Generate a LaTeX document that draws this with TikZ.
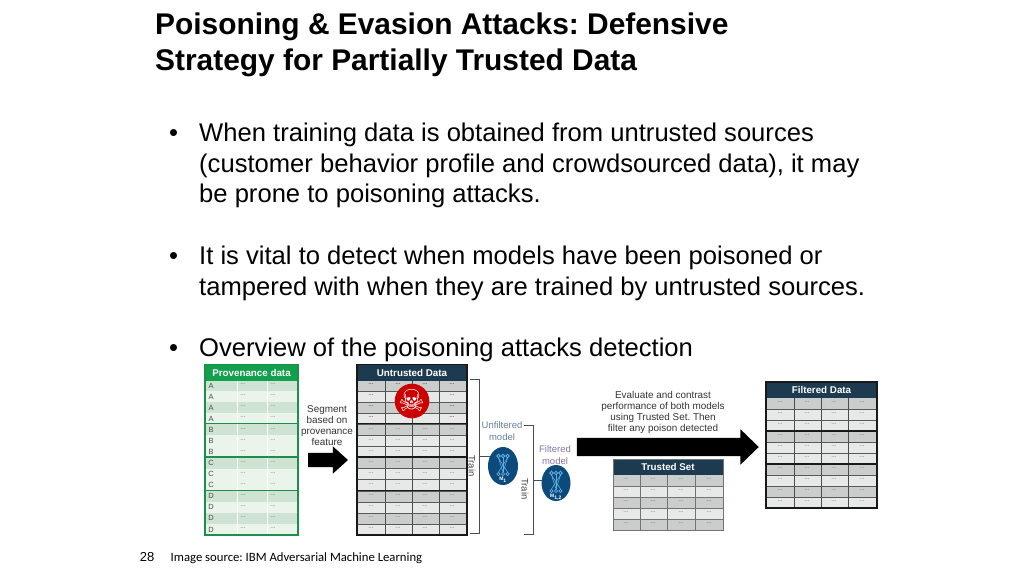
\documentclass[tikz,border=0pt]{standalone}
\usepackage{fontspec}
\setmainfont{Liberation Sans}
\newfontfamily\bodyfont{Carlito}
\newfontfamily\symfont{DejaVu Sans}
\usetikzlibrary{shapes.arrows}
\usetikzlibrary{shapes.geometric}
\definecolor{hdrdark}{HTML}{1C3A50}
\definecolor{hdrgreen}{HTML}{12A04E}
\definecolor{linegreen}{HTML}{1C8F4C}
\definecolor{rowgreyA}{HTML}{C9CDCC}
\definecolor{rowgreyB}{HTML}{E6E9E8}
\definecolor{rowgreenA}{HTML}{CFE3D3}
\definecolor{rowgreenB}{HTML}{EAF4EA}
\definecolor{modelblue}{HTML}{0B4A7A}
\definecolor{iconblue}{HTML}{5FAEDF}
\definecolor{unfcolor}{HTML}{64809C}
\definecolor{filcolor}{HTML}{8A74AE}
\tikzset{
    slidetitle/.style = {anchor=west,inner sep=0pt,text height=22pt,text depth=6pt,font=\fontsize{29.9}{29.9}\selectfont\bfseries},
    bodyline/.style = {anchor=west,inner sep=0pt,text height=19pt,text depth=5.5pt,font=\fontsize{25.6}{25.6}\selectfont},
    datarow/.style = {rectangle,anchor=north west,inner sep=0pt,outer sep=0pt},
    datahdr/.style = {rectangle,anchor=north west,inner sep=0pt,outer sep=0pt,text=white,font=\fontsize{9.8}{9.8}\selectfont\bfseries},
    datadots/.style = {inner sep=0pt,font=\fontsize{6.5}{6.5}\selectfont},
    caption/.style = {align=center,inner sep=0pt,text=black!80,font=\fontsize{9.9}{11}\selectfont},
    brace/.style = {draw=black!70,thick},
    sidetext/.style = {inner sep=0pt,text=black!75,rotate=-90,font=\fontsize{9.5}{9.5}\selectfont},
    modelname/.style = {align=center,inner sep=0pt,font=\fontsize{9.5}{12}\selectfont},
    model/.style = {ellipse,fill=modelblue,inner sep=0pt},
    blockarrow/.style = {single arrow,fill=black,inner xsep=0pt,single arrow head indent=0pt},
}
% rows: first x, top y, width, row count, row height, dark colour, light colour, list of dark rows
\newcommand{\stripes}[8]{
    \foreach \r in {1,...,#4}{
        \node[datarow,fill=#7,minimum width=#3pt,minimum height=#5pt] at (#1,{#2+(\r-1)*#5}) {};
    }
    \foreach \r in {#8}{
        \node[datarow,fill=#6,minimum width=#3pt,minimum height=#5pt] at (#1,{#2+(\r-1)*#5}) {};
    }
}
% dots of one column
\newcommand{\dotcol}[5]{
    \foreach \r in {1,...,#3}{
        \node[datadots,text=#5] at (#1,{#2+(\r-0.6)*#4}) {...};
    }
}
% icon drawn inside a model node
\newcommand{\modelicon}[3]{
    \foreach \dx in {-4.5,0,4.5}{
        \draw[iconblue,line width=0.9pt] (#1+\dx,#2-10) circle (1.7);
        \draw[iconblue,line width=0.7pt] (#1+\dx,#2+8) circle (1.6);
        \draw[iconblue,line width=0.6pt] (#1+\dx,#2-8) -- (#1-\dx,#2+6);
        \draw[iconblue,line width=0.6pt] (#1+\dx,#2-8) -- (#1,#2+6);
    }
    \node[inner sep=0pt,text=white,font=\fontsize{5}{5}\selectfont\bfseries] at (#1,#2+14) {#3};
}
\begin{document}
\frenchspacing
\begin{tikzpicture}[x=1pt,y=-1pt]
\useasboundingbox (0,0) rectangle (1024,576);

% heading and bullets
\node[slidetitle] (title1) at (155,26) {Poisoning \& Evasion Attacks: Defensive};
\node[slidetitle] (title2) at (155,62) {Strategy for Partially Trusted Data};
\node[bodyline] (b1) at (169,135) {•};
\node[bodyline] (l1) at (199,135) {When training data is obtained from untrusted sources};
\node[bodyline] (l2) at (199,166) {(customer behavior profile and crowdsourced data), it may};
\node[bodyline] (l3) at (199,196) {be prone to poisoning attacks.};
\node[bodyline] (b2) at (169,258) {•};
\node[bodyline] (l4) at (199,258) {It is vital to detect when models have been poisoned or};
\node[bodyline] (l5) at (199,289) {tampered with when they are trained by untrusted sources.};
\node[bodyline] (b3) at (169,350) {•};
\node[bodyline] (l6) at (199,350) {Overview of the poisoning attacks detection};

% provenance table
\stripes{205}{380}{93}{14}{11.07}{rowgreenA}{rowgreenB}{1,3,5,8,11,13}
\draw[white,thin] (237,380) -- (237,535) (267,380) -- (267,535);
\node[datahdr,fill=hdrgreen,minimum width=93pt,minimum height=16pt] (prov) at (205,364.5) {Provenance data};
\foreach \r/\l in {1/A,2/A,3/A,4/A,5/B,6/B,7/B,8/C,9/C,10/C,11/D,12/D,13/D,14/D}{
    \node[inner sep=0pt,text=black!70,font=\fontsize{7.5}{7.5}\selectfont] at (211,{380+(\r-0.5)*11.07}) {\l};
}
\dotcol{243}{380}{14}{11.07}{black!55}
\dotcol{273}{380}{14}{11.07}{black!55}
\draw[linegreen,line width=1.2pt] (205,364.5) rectangle (298,535) (205,423.5) -- (298,423.5) (205,457) -- (298,457) (205,490.5) -- (298,490.5);

% untrusted table
\stripes{357}{380}{110}{14}{11.07}{rowgreyA}{rowgreyB}{1,3,5,8,11,13}
\foreach \ry in {1,...,13}{\draw[black!65,thin] (357,{380+\ry*11.07}) -- (467,{380+\ry*11.07});}
\draw[black!70,thin] (385,380) -- (385,535) (412,380) -- (412,535) (439,380) -- (439,535);
\node[datahdr,fill=hdrdark,minimum width=110pt,minimum height=16pt] (untrusted) at (357,364.5) {Untrusted Data};
\foreach \cx in {371,452}{\dotcol{\cx}{380}{4}{11.07}{red!60!black}}
\foreach \cx in {398,425}{\dotcol{\cx}{380}{1}{11.07}{red!60!black}}
\foreach \cx in {371,398,425,452}{\dotcol{\cx}{424.28}{10}{11.07}{black!55}}
\draw[black!90,line width=1.2pt] (357,364.5) rectangle (467,535) (357,423.5) -- (467,423.5) (357,457) -- (467,457) (357,490.5) -- (467,490.5);
\node[circle,fill=red!80!black,minimum size=34pt,inner sep=0pt,text=white,font=\symfont\fontsize{30}{30}\selectfont] (skull) at (412,401) {☠};

% first arrow and its text
\node[caption] (segment) at (327,426) {Segment\\based on\\provenance\\feature};
\node[blockarrow,inner ysep=7pt,minimum height=40pt,single arrow head extend=6.5pt,single arrow tip angle=84] (arrowA) at (324,460) {};

% first bracket, stem and model
\coordinate (brA1) at (470,379);
\coordinate (brA2) at (479,379);
\coordinate (brA3) at (479,533);
\coordinate (brA4) at (470,533);
\coordinate (brAm) at (479,456.5);
\node[model,minimum width=30pt,minimum height=38pt] (unfiltered) at (503,466) {};
\draw[brace] (brA1) -- (brA2) -- (brA3) -- (brA4);
\draw[brace,shorten >=-2pt] (brAm) -- (brAm -| unfiltered.west);
\node[sidetext] (trainA) at (472,466) {Train};
\node[modelname,text=unfcolor] (unfname) at (502,431) {Unfiltered\\model};
\modelicon{503}{466}{M\textsubscript{1}}

% second bracket, stem and model
\coordinate (brB1) at (524,425);
\coordinate (brB2) at (533,425);
\coordinate (brB3) at (533,534);
\coordinate (brB4) at (524,534);
\coordinate (brBm) at (533,480);
\node[model,minimum width=29pt,minimum height=36pt] (filtered) at (556,483) {};
\draw[brace] (brB1) -- (brB2) -- (brB3) -- (brB4);
\draw[brace,shorten >=-0.5pt] (brBm) -- (brBm -| filtered.west);
\node[sidetext] (trainB) at (525,489) {Train};
\node[modelname,text=filcolor] (filname) at (555,455) {Filtered\\model};
\modelicon{556}{483}{M\textsubscript{1,2}}

% second arrow and its text
\node[caption] (evaluate) at (663,412) {Evaluate and contrast\\performance of both models\\using Trusted Set. Then\\filter any poison detected};
\node[blockarrow,inner ysep=9pt,minimum height=182pt,single arrow head extend=8.5pt,single arrow tip angle=88] (arrowB) at (663,447) {};

% trusted table
\stripes{613}{475}{110}{5}{11}{rowgreyA}{rowgreyB}{1,3,5}
\foreach \ry in {1,...,4}{\draw[black!55,thin] (613,{475+\ry*11}) -- (723,{475+\ry*11});}
\draw[black!55,thin] (640,475) -- (640,530) (667,475) -- (667,530) (695,475) -- (695,530);
\node[datahdr,fill=hdrdark,minimum width=110pt,minimum height=16pt] (trusted) at (613,459) {Trusted Set};
\foreach \cx in {626,653,681,709}{\dotcol{\cx}{475}{5}{11}{black!55}}
\draw[black!55,thin] (613,459) rectangle (723,530);

% filtered table
\stripes{766}{398}{111}{10}{11}{rowgreyA}{rowgreyB}{1,4,7,9}
\foreach \ry in {1,...,9}{\draw[black!65,thin] (766,{398+\ry*11}) -- (877,{398+\ry*11});}
\draw[black!70,thin] (794,398) -- (794,508) (821,398) -- (821,508) (848,398) -- (848,508);
\node[datahdr,fill=hdrdark,minimum width=111pt,minimum height=16pt] (filt) at (766,382) {Filtered Data};
\foreach \cx in {780,807,834,862}{\dotcol{\cx}{398}{10}{11}{black!55}}
\draw[black!90,line width=1.2pt] (766,382) rectangle (877,508) (766,431) -- (877,431) (766,464) -- (877,464);

% footer
\node[inner sep=0pt,font=\fontsize{13}{13}\selectfont] (pageno) at (147,557) {28};
\node[anchor=west,inner sep=0pt,font=\bodyfont\fontsize{12.7}{12.7}\selectfont] (source) at (170.5,558) {Image source: IBM Adversarial Machine Learning};
\end{tikzpicture}
\end{document}
